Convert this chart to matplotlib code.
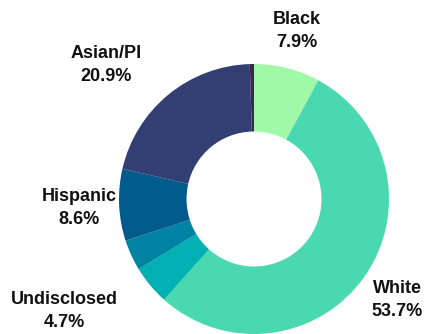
import matplotlib.pyplot as plt

groups = ["Black", "White", "Undisclosed", "Multiracial", "Hispanic", "Asian/PI", "Native American"]
shares = [7.9, 53.7, 4.7, 3.7, 8.6, 20.9, 0.5]
colors = ["#a0f9a6", "#4ad8b1", "#00b0b2", "#0083a3", "#005b8c", "#333f72", "#3b2851"]
shown = ["Black", "White", "Undisclosed", "Hispanic", "Asian/PI"]

# label centres in pixels (x, y from top-left)
label_px = {
    "Black": (297, 31),
    "White": (397, 300),
    "Undisclosed": (64, 311),
    "Hispanic": (79, 208),
    "Asian/PI": (106, 65),
}

W, H = 426, 334
cx, cy, R = 254, 199, 135

fig = plt.figure(figsize=(W / 100, H / 100), dpi=100)
ax = fig.add_axes([0, 0, 1, 1])
ax.pie(shares, colors=colors, startangle=90, counterclock=False, radius=1,
       wedgeprops=dict(width=0.5, edgecolor="none", linewidth=0))
ax.set_xlim(-cx / R, (W - cx) / R)
ax.set_ylim(-(H - cy) / R, cy / R)
ax.set_aspect("auto")
ax.axis("off")

for name, val in zip(groups, shares):
    if name not in shown:
        continue
    px, py = label_px[name]
    ax.text((px - cx) / R, (cy - py) / R, f"{name}\n{val:.1f}%",
            ha="center", va="center", fontsize=13, fontweight="bold",
            family="Liberation Sans", linespacing=1.45, color="#111111")

fig.savefig("out.png", dpi=100)
